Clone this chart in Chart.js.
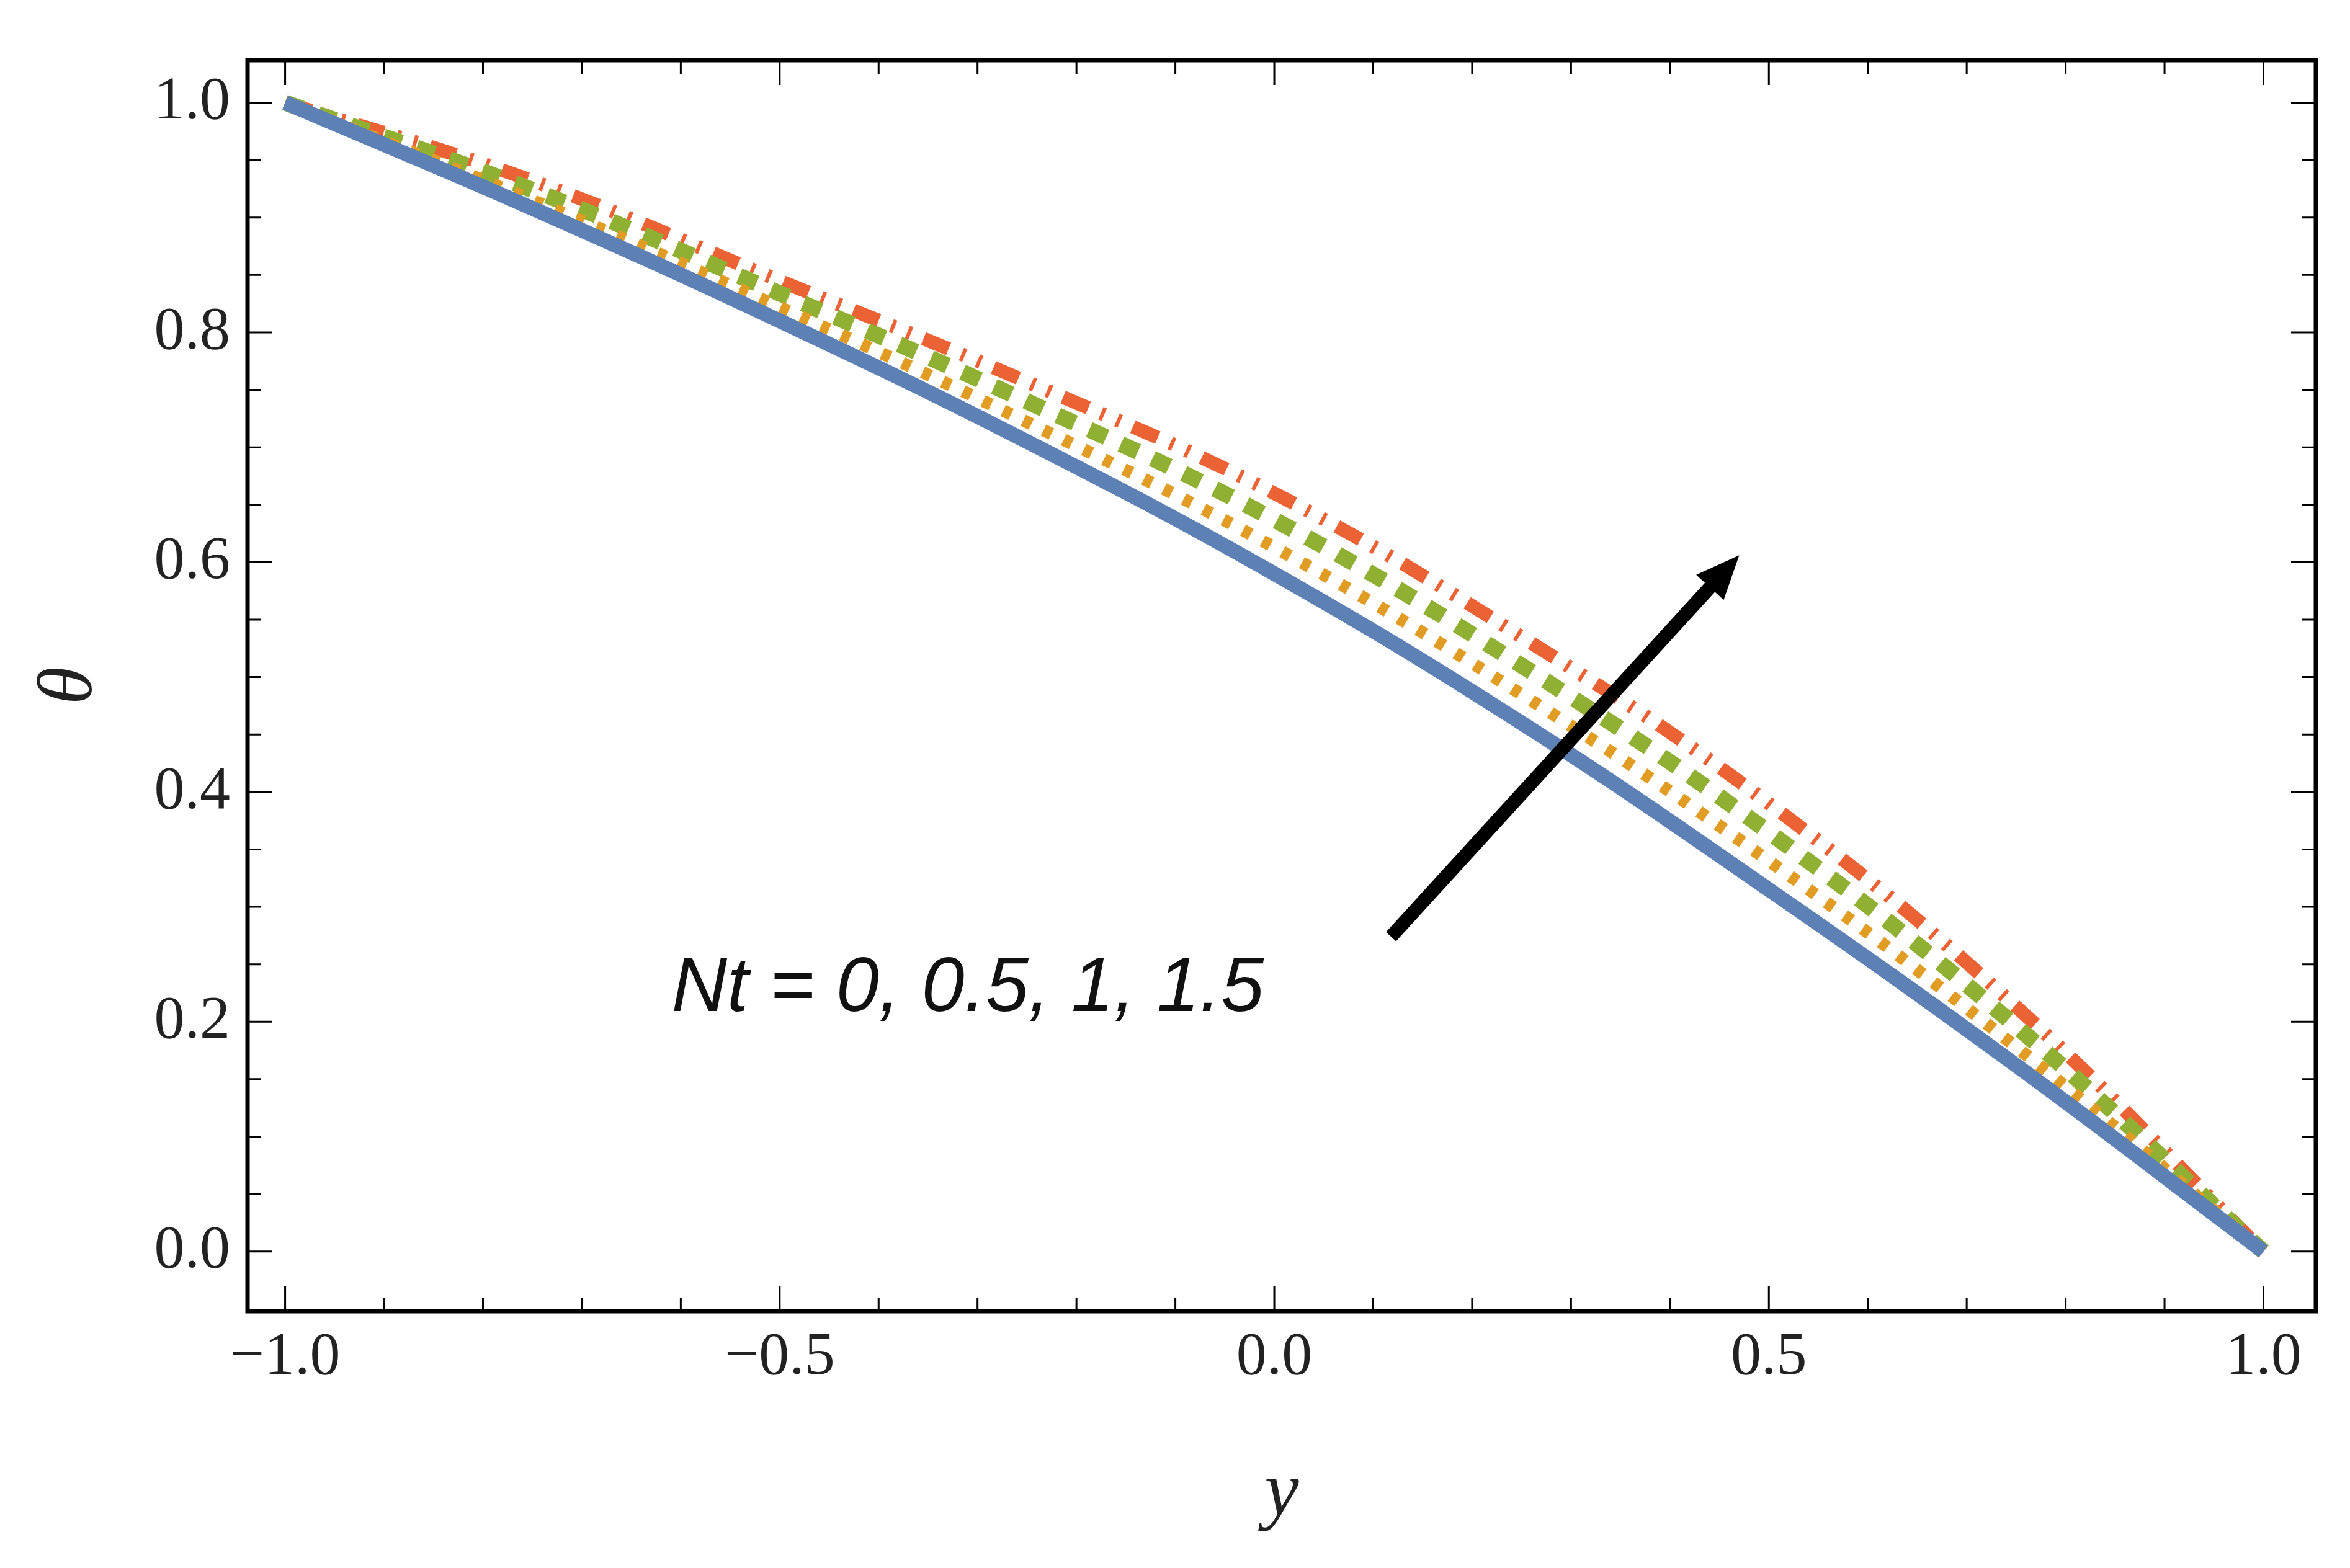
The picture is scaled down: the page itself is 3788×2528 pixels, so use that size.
<!DOCTYPE html>
<html>
<head>
<meta charset="utf-8">
<script src="https://cdn.jsdelivr.net/npm/chart.js@4"></script>
<style>
  html, body { margin: 0; padding: 0; background: #fff; }
  #wrap { width: 3788px; height: 2528px; }
</style>
</head>
<body>
<div id="wrap"><canvas id="c" width="3788" height="2528"></canvas></div>
<script>
// y positions and theta values per Nt
const yValues = [-1, -0.75, -0.5, -0.25, 0, 0.25, 0.5, 0.75, 1];
const thetaNt0 = [1, 0.908, 0.81, 0.705, 0.59, 0.46, 0.315, 0.162, 0];
const thetaNt05 = [1, 0.915, 0.822, 0.722, 0.613, 0.485, 0.34, 0.178, 0];
const thetaNt1 = [1, 0.924, 0.834, 0.74, 0.637, 0.51, 0.365, 0.196, 0];
const thetaNt15 = [1, 0.932, 0.845, 0.757, 0.66, 0.535, 0.39, 0.213, 0];
const xTicks = [-1.0, -0.5, 0.0, 0.5, 1.0];
const yTicks = [0.0, 0.2, 0.4, 0.6, 0.8, 1.0];
const annotationText = 'Nt = 0, 0.5, 1, 1.5';

function toPoints(vals) {
    return vals.map((v, i) => ({ x: yValues[i], y: v }));
}

function makeDataset(vals, color, width, dash) {
    return {
        data: toPoints(vals),
        borderColor: color,
        borderWidth: width,
        borderDash: dash,
        borderCapStyle: 'butt',
        pointRadius: 0,
        tension: 0.4,
        fill: false
    };
}

// frame, inward ticks, arrow and label
const decor = {
    id: 'decor',
    afterDatasetsDraw(chart) {
        const ctx = chart.ctx;
        const a = chart.chartArea;
        const xs = chart.scales.x, ys = chart.scales.y;
        ctx.save();
        ctx.strokeStyle = '#000';
        ctx.lineWidth = 3;
        for (let i = -10; i <= 10; i++) {
            const px = xs.getPixelForValue(i / 10);
            const len = i % 5 === 0 ? 40 : 22;
            ctx.beginPath();
            ctx.moveTo(px, a.bottom); ctx.lineTo(px, a.bottom - len);
            ctx.moveTo(px, a.top); ctx.lineTo(px, a.top + len);
            ctx.stroke();
        }
        for (let i = 0; i <= 20; i++) {
            const py = ys.getPixelForValue(i / 20);
            const len = i % 4 === 0 ? 40 : 22;
            ctx.beginPath();
            ctx.moveTo(a.left, py); ctx.lineTo(a.left + len, py);
            ctx.moveTo(a.right, py); ctx.lineTo(a.right - len, py);
            ctx.stroke();
        }
        ctx.lineWidth = 7;
        ctx.strokeRect(a.left, a.top, a.right - a.left, a.bottom - a.top);

        // arrow
        const x0 = xs.getPixelForValue(0.118), y0 = ys.getPixelForValue(0.274);
        const x1 = xs.getPixelForValue(0.47), y1 = ys.getPixelForValue(0.606);
        const ang = Math.atan2(y1 - y0, x1 - x0);
        const head = 70;
        ctx.lineWidth = 22;
        ctx.beginPath();
        ctx.moveTo(x0, y0);
        ctx.lineTo(x1 - Math.cos(ang) * head * 0.8, y1 - Math.sin(ang) * head * 0.8);
        ctx.stroke();
        ctx.fillStyle = '#000';
        ctx.beginPath();
        ctx.moveTo(x1, y1);
        ctx.lineTo(x1 - head * Math.cos(ang) + 30 * Math.sin(ang), y1 - head * Math.sin(ang) - 30 * Math.cos(ang));
        ctx.lineTo(x1 - head * Math.cos(ang) - 30 * Math.sin(ang), y1 - head * Math.sin(ang) + 30 * Math.cos(ang));
        ctx.closePath();
        ctx.fill();

        ctx.font = 'italic 124px "Liberation Sans", Arial, sans-serif';
        ctx.textAlign = 'center';
        ctx.textBaseline = 'middle';
        ctx.fillStyle = '#111';
        ctx.fillText(annotationText, xs.getPixelForValue(-0.31), ys.getPixelForValue(0.228));
        ctx.restore();
    }
};

const tickFont = { family: '"Liberation Serif", "Times New Roman", serif', size: 98 };
const titleFont = { family: '"Liberation Serif", "Times New Roman", serif', size: 124, style: 'italic' };

new Chart(document.getElementById('c'), {
    type: 'line',
    data: {
        datasets: [
            makeDataset(thetaNt0, '#5E81B5', 24, []),
            makeDataset(thetaNt05, '#E19C24', 20, [14, 22]),
            makeDataset(thetaNt1, '#8FB032', 26, [30, 26]),
            makeDataset(thetaNt15, '#EB6235', 22, [44, 22, 6, 22, 6, 22])
        ]
    },
    options: {
        responsive: false,
        animation: false,
        layout: { padding: { top: 97, right: 55, bottom: 40 } },
        plugins: { legend: { display: false }, tooltip: { enabled: false } },
        scales: {
            x: {
                type: 'linear',
                min: -1.038, max: 1.053,
                afterFit(s) { s.height = 374; },
                afterBuildTicks(s) { s.ticks = xTicks.map(v => ({ value: v })); },
                grid: { display: false },
                border: { display: false },
                ticks: { font: tickFont, color: '#222', padding: 8,
                         callback: v => v.toFixed(1).replace('-', '\u2212') },
                title: { display: true, text: 'y', font: titleFont, color: '#222', padding: { top: 0 } }
            },
            y: {
                type: 'linear',
                min: -0.052, max: 1.037,
                afterFit(s) { s.width = 399; },
                afterBuildTicks(s) { s.ticks = yTicks.map(v => ({ value: v })); },
                grid: { display: false },
                border: { display: false },
                ticks: { font: tickFont, color: '#222', padding: 20,
                         callback: v => v.toFixed(1) },
                title: { display: true, text: 'θ', font: titleFont, color: '#222', padding: { top: 40, bottom: 20 } }
            }
        }
    },
    plugins: [decor]
});
</script>
</body>
</html>
